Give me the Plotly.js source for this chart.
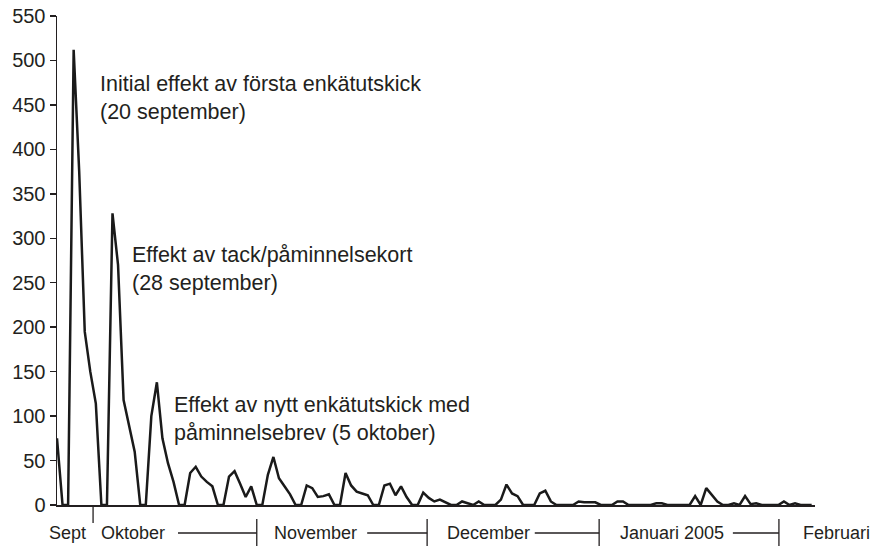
<!DOCTYPE html>
<html>
<head>
<meta charset="utf-8">
<script src="https://cdn.plot.ly/plotly-3.0.1.min.js"></script>
<style>html,body{margin:0;padding:0;background:#fff;}#chart{width:874px;height:546px;}</style>
</head>
<body>
<div id="chart"></div>
<script>
// Days since Friday 17 September 2004 (one point per day)
const dayIndex = [];
// Daily number of returned questionnaires
const responses = [
  75, 0, 0, 512, 375, 195, 150, 114, 0, 0,
  328, 270, 118, 90, 60, 0, 0, 100, 138, 75,
  47, 26, 0, 0, 36, 43, 32, 26, 21, 0,
  0, 32, 38, 24, 9, 21, 0, 0, 34, 54,
  30, 21, 12, 0, 0, 22, 19, 9, 10, 12,
  0, 0, 36, 22, 15, 13, 11, 0, 0, 22,
  24, 11, 21, 9, 0, 0, 14, 8, 4, 6,
  3, 0, 0, 4, 2, 0, 4, 0, 0, 0,
  6, 23, 13, 10, 0, 0, 0, 13, 16, 4,
  0, 0, 0, 0, 4, 3, 3, 3, 0, 0,
  0, 4, 4, 0, 0, 0, 0, 0, 2, 2,
  0, 0, 0, 0, 0, 10, 0, 19, 11, 4,
  0, 0, 2, 0, 10, 1, 2, 0, 0, 0,
  0, 4, 0, 2, 0, 0, 0
];
for (let i = 0; i < responses.length; i++) dayIndex.push(i);

const yTicks = [0, 50, 100, 150, 200, 250, 300, 350, 400, 450, 500, 550];

// Month labels under the axis (position in day units)
const monthLabels = ["Sept", "Oktober", "November", "December", "Januari 2005", "Februari"];
const monthLabelPos = [1.9, 13.7, 46.5, 77.7, 110.9, 140.5];
// month separator bars and the lead lines from label to bar
const monthBars = [36.0, 66.7, 97.7, 130.1];
const leadLineStart = [21.8, 55.9, 86.1, 121.8];
const septTick = 6.5;

const notes = [
  "Initial effekt av första enkätutskick<br>(20 september)",
  "Effekt av tack/påminnelsekort<br>(28 september)",
  "Effekt av nytt enkätutskick med<br>påminnelsebrev (5 oktober)"
];
const noteX = [7.35, 13.15, 20.75];
const noteY = [458, 266, 97];

const ink = "#231f20";
const fontFam = "Liberation Sans, Arial, Helvetica, sans-serif";
const xMax = 136.6;
const plotH = 489; // height of plot area in px
const px = v => v / plotH; // pixel offset -> paper fraction

const annotations = [];
notes.forEach((t, i) => annotations.push({
  x: noteX[i], y: noteY[i], xref: "x", yref: "y", text: t, showarrow: false,
  xanchor: "left", yanchor: "middle", align: "left",
  font: {family: fontFam, size: 21.5, color: ink}
}));
monthLabels.forEach((t, i) => annotations.push({
  x: monthLabelPos[i] / xMax, y: px(-28), xref: "paper", yref: "paper", text: t, showarrow: false,
  xanchor: "center", yanchor: "middle",
  font: {family: fontFam, size: 18, color: ink}
}));

const shapes = [];
const lineStyle = {color: ink, width: 1.3};
shapes.push({type: "line", xref: "x", yref: "paper",
  x0: septTick, x1: septTick, y0: px(-2), y1: px(-18), line: lineStyle});
monthBars.forEach((b, i) => {
  shapes.push({type: "line", xref: "x", yref: "paper",
    x0: b, x1: b, y0: px(-14), y1: px(-41), line: lineStyle});
  shapes.push({type: "line", xref: "x", yref: "paper",
    x0: leadLineStart[i], x1: b, y0: px(-28), y1: px(-28), line: lineStyle});
});

const trace = {
  x: dayIndex, y: responses, type: "scatter", mode: "lines",
  line: {color: "#1a1a1a", width: 2.5}, hoverinfo: "x+y"
};

const layout = {
  width: 874, height: 546,
  margin: {l: 57, r: 59, t: 16, b: 41, pad: 0},
  paper_bgcolor: "#fff", plot_bgcolor: "#fff",
  showlegend: false,
  xaxis: {range: [0, xMax], showline: true, linecolor: ink, linewidth: 1.5,
    showticklabels: false, ticks: "", showgrid: false, zeroline: false, fixedrange: true},
  yaxis: {range: [0, 550], tickvals: yTicks, ticktext: yTicks.map(String),
    ticks: "outside", ticklen: 6, tickwidth: 1.5, tickcolor: ink,
    showline: true, linecolor: ink, linewidth: 1.5, showgrid: false, zeroline: false,
    tickfont: {family: fontFam, size: 20, color: ink}, fixedrange: true},
  annotations: annotations,
  shapes: shapes
};

Plotly.newPlot("chart", [trace], layout, {displayModeBar: false, staticPlot: true});
</script>
</body>
</html>
